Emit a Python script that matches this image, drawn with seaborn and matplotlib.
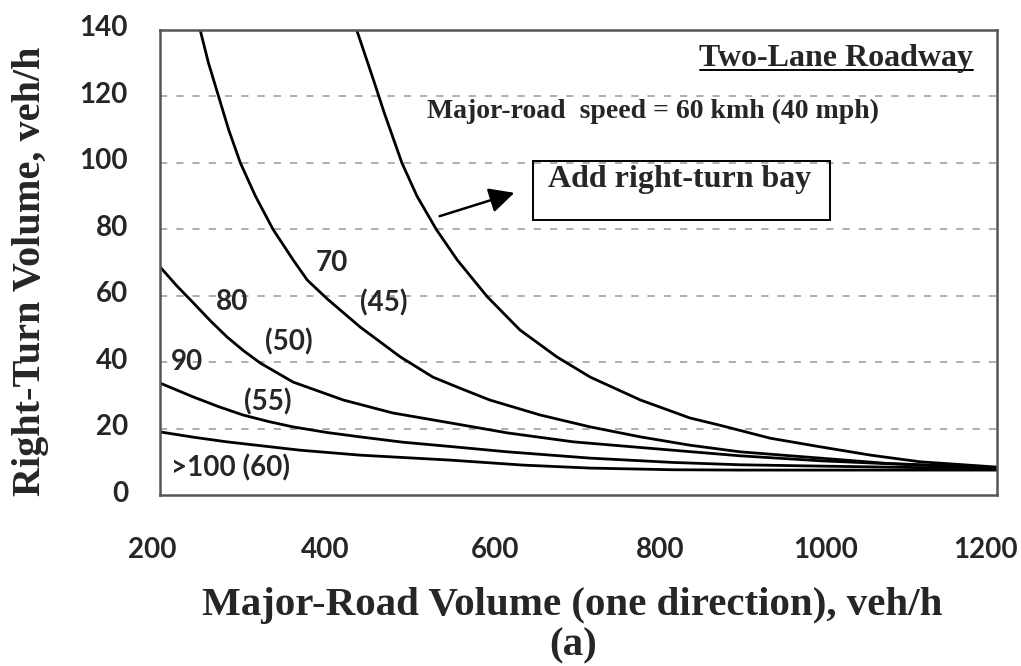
import matplotlib
matplotlib.use('Agg')
import matplotlib.pyplot as plt
import matplotlib.transforms as mtrans
import seaborn as sns
import pandas as pd
from matplotlib.patches import Rectangle

# curves: major-road volume (veh/h) vs right-turn volume (veh/h)
bay_x = [435, 455, 468, 489, 507, 530, 555, 591, 630, 674, 714, 774, 833, 869, 929, 989, 1049, 1108, 1200]
bay_y = [140, 125, 115, 100, 90, 80, 70.8, 59.7, 49.7, 41.6, 35.5, 28.6, 23.2, 21.0, 17.1, 14.5, 12.0, 10.0, 8.4]

s70_x = [248, 258, 270, 282, 296, 314, 335, 359, 376, 400, 439, 487, 526, 558, 594, 654, 714, 774, 833, 893, 989, 1069, 1200]
s70_y = [140, 130, 120, 110, 100, 90, 80, 70.8, 64.7, 59.0, 50.6, 41.6, 35.5, 32.2, 28.6, 24.1, 20.5, 17.5, 15.0, 13.0, 11.1, 9.5, 8.2]

s80_x = [200, 220, 240, 260, 280, 300, 320, 359, 419, 478, 547, 615, 694, 774, 893, 989, 1200]
s80_y = [68.7, 63.0, 57.8, 52.5, 47.6, 43.4, 39.7, 34.0, 28.6, 24.7, 21.7, 18.7, 16.0, 14.3, 11.8, 10.3, 8.0]

s90_x = [200, 240, 270, 299, 330, 359, 400, 439, 490, 547, 615, 714, 813, 893, 989, 1200]
s90_y = [33.7, 29.5, 26.6, 24.1, 22.1, 20.5, 18.8, 17.5, 15.9, 14.6, 13.0, 11.1, 9.8, 9.1, 8.7, 7.9]

s100_x = [200, 240, 280, 367, 439, 547, 634, 714, 813, 893, 1000, 1200]
s100_y = [19.0, 17.4, 16.0, 13.5, 12.0, 10.5, 9.0, 8.1, 7.6, 7.5, 7.5, 7.5]

curve_names = ['bay', '70', '80', '90', '100']
curve_x = [bay_x, s70_x, s80_x, s90_x, s100_x]
curve_y = [bay_y, s70_y, s80_y, s90_y, s100_y]

# curve labels: text, x, y
label_text = ['70', '(45)', '80', '(50)', '90', '(55)', '>100 (60)']
label_x = [405, 467, 286, 354, 232, 329, 284]
label_y = [69.9, 57.8, 58.1, 46.0, 40.0, 28.0, 8.1]

x_ticks = [200, 400, 600, 800, 1000, 1200]
y_ticks = [0, 20, 40, 60, 80, 100, 120, 140]
x_label_shift = [-8, -2, 0, -2, -4, -12]  # px nudges seen in the original

rows = []
for name, xs, ys in zip(curve_names, curve_x, curve_y):
    for a, b in zip(xs, ys):
        rows.append({'volume': a, 'turn': b, 'curve': name})
df = pd.DataFrame(rows)

sns.set_theme(style='white')
plt.rcParams['font.family'] = ['Lato', 'DejaVu Sans']
plt.rcParams['font.weight'] = 'bold'

fig = plt.figure(figsize=(10.21, 6.66), dpi=100)
ax = fig.add_axes([160 / 1021, 171 / 666, 837 / 1021, 465 / 666])

sns.lineplot(data=df, x='volume', y='turn', hue='curve', palette=['black'] * 5,
             estimator=None, legend=False, linewidth=2.0, ax=ax)

ax.set_xlim(200, 1200)
ax.set_ylim(0, 140)
ax.set_xticks(x_ticks)
ax.set_yticks(y_ticks)
ax.tick_params(axis='x', direction='in', length=5, width=1, color='#666666',
               labelsize=20, pad=30)
ax.tick_params(axis='y', length=0, labelsize=20, pad=23)
for t, dx in zip(ax.get_xticklabels(), x_label_shift):
    t.set_fontweight('bold')
    t.set_transform(t.get_transform() + mtrans.ScaledTranslation(dx / 100, 0, fig.dpi_scale_trans))
for t in ax.get_yticklabels():
    t.set_fontweight('bold')
    t.set_transform(t.get_transform() + mtrans.ScaledTranslation(0, 4 / 100, fig.dpi_scale_trans))
ax.set_xlabel('')
ax.set_ylabel('')

for v in y_ticks[1:-1]:
    ax.axhline(v, color='#a8a8a8', lw=1.3, ls=(0, (4, 5)), zorder=0)

for sp in ax.spines.values():
    sp.set_color('#555555')
    sp.set_linewidth(1.8)

for txt, lx, ly in zip(label_text, label_x, label_y):
    ax.text(lx, ly, txt, fontsize=20, fontweight='bold', ha='center', va='center')

serif = 'Liberation Serif'
fig.text(973 / 1021, 1 - 66 / 666, 'Two-Lane Roadway', family=serif, fontsize=23,
         fontweight='bold', ha='right', va='baseline')
ax.plot([(700 - 160) / 837, (973 - 160) / 837], [(495 - 70) / 465] * 2,
        transform=ax.transAxes, color='black', lw=1.4)
fig.text(427 / 1021, 1 - 118 / 666, 'Major-road  speed = 60 kmh (40 mph)', family=serif,
         fontsize=20, fontweight='bold', ha='left', va='baseline')

ax.add_patch(Rectangle(((533 - 160) / 837, (495 - 220) / 465), 297 / 837, 59 / 465,
                       transform=ax.transAxes, fill=False, edgecolor='black', lw=1.4))
fig.text(548 / 1021, 1 - 187 / 666, 'Add right-turn bay', family=serif, fontsize=23,
         fontweight='bold', ha='left', va='baseline')
ax.annotate('', xy=((517 - 160) / 837, (495 - 192) / 465), xycoords='axes fraction',
            xytext=((437 - 160) / 837, (495 - 217) / 465), textcoords='axes fraction',
            arrowprops=dict(arrowstyle='-|>', mutation_scale=38, lw=1.8, color='black'))

fig.text(31 / 1021, 1 - 271 / 666, 'Right-Turn Volume, veh/h', family=serif, fontsize=29,
         fontweight='bold', rotation=90, ha='center', va='center')
fig.text(572 / 1021, 51 / 666, 'Major-Road Volume (one direction), veh/h', family=serif,
         fontsize=29.5, fontweight='bold', ha='center', va='baseline')
fig.text(573 / 1021, 11 / 666, '(a)', family=serif, fontsize=29.5, fontweight='bold',
         ha='center', va='baseline')

fig.savefig('out.png', dpi=100)
